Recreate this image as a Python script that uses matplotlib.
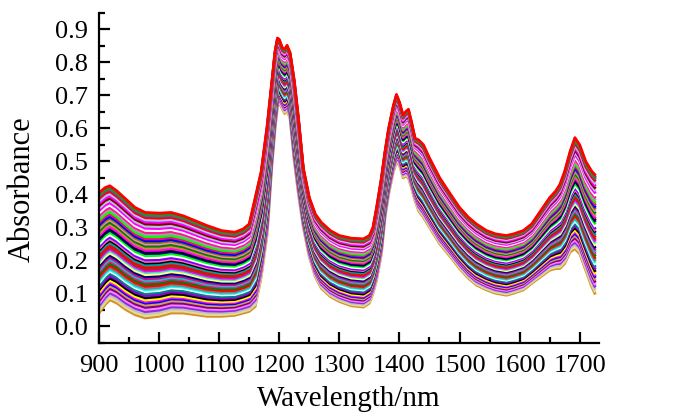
import numpy as np
import matplotlib
matplotlib.use("Agg")
import matplotlib.pyplot as plt
from matplotlib.ticker import MultipleLocator

# Wavelength grid (nm) and the upper / lower envelopes
wavelength = [900, 910, 918, 930, 945, 960, 977, 1000, 1020, 1040, 1060, 1080, 1104,
              1126, 1140, 1150, 1160, 1170, 1180, 1187, 1193, 1197, 1200, 1205, 1209,
              1213, 1218, 1225, 1232, 1240, 1250, 1260, 1270, 1285, 1300, 1320, 1340,
              1350, 1356, 1362, 1370, 1376, 1382, 1390, 1395, 1400, 1406, 1410, 1415,
              1420, 1426, 1432, 1440, 1450, 1467, 1485, 1500, 1515, 1528, 1545, 1560,
              1578, 1590, 1606, 1620, 1635, 1650, 1660, 1667, 1675, 1684, 1692, 1700,
              1710, 1720, 1725]
upper = [0.405, 0.420, 0.426, 0.410, 0.385, 0.360, 0.345, 0.343, 0.345, 0.335, 0.320, 0.305, 0.290,
         0.285, 0.295, 0.310, 0.390, 0.470, 0.610, 0.730, 0.835, 0.874, 0.870, 0.845, 0.840,
         0.852, 0.830, 0.745, 0.630, 0.480, 0.390, 0.340, 0.315, 0.290, 0.275, 0.267, 0.265,
         0.275, 0.300, 0.360, 0.450, 0.530, 0.600, 0.670, 0.703, 0.680, 0.640, 0.650, 0.658,
         0.620, 0.570, 0.565, 0.550, 0.510, 0.450, 0.400, 0.360, 0.330, 0.310, 0.290, 0.280,
         0.275, 0.280, 0.290, 0.310, 0.350, 0.390, 0.410, 0.430, 0.470, 0.530, 0.572, 0.550,
         0.500, 0.470, 0.460]
lower = [0.040, 0.065, 0.080, 0.070, 0.050, 0.035, 0.025, 0.030, 0.040, 0.040, 0.035, 0.030, 0.030,
         0.033, 0.040, 0.045, 0.060, 0.150, 0.280, 0.470, 0.600, 0.665, 0.678, 0.660, 0.645,
         0.655, 0.630, 0.500, 0.400, 0.300, 0.210, 0.150, 0.115, 0.090, 0.075, 0.062, 0.058,
         0.070, 0.100, 0.140, 0.220, 0.330, 0.400, 0.470, 0.496, 0.490, 0.450, 0.455, 0.450,
         0.420, 0.380, 0.350, 0.330, 0.300, 0.250, 0.210, 0.175, 0.145, 0.125, 0.110, 0.100,
         0.094, 0.100, 0.110, 0.130, 0.150, 0.170, 0.175, 0.175, 0.190, 0.225, 0.235, 0.220,
         0.170, 0.120, 0.100]

# Relative position of each spectrum within the envelope (bottom -> top)
level = [0.00, 0.02, 0.04, 0.06, 0.08, 0.10, 0.12, 0.14, 0.155, 0.17, 0.19, 0.21, 0.23,
         0.25, 0.265, 0.28, 0.30, 0.32, 0.34, 0.355, 0.37, 0.39, 0.41, 0.43, 0.445, 0.46,
         0.48, 0.50, 0.52, 0.535, 0.55, 0.57, 0.59, 0.61, 0.625, 0.64, 0.66, 0.68, 0.70,
         0.715, 0.73, 0.75, 0.77, 0.79, 0.81, 0.83, 0.85, 0.87, 0.89, 0.91, 0.93, 0.95,
         0.965, 0.985, 0.975, 1.00]

colors = ["#D4902A", "#E8DC8C", "#C0C0C0", "#8B2BE2", "#FF80FF", "#800080", "#D2A050",
          "#0000FF", "#FF00FF", "#FFFF00", "#000000", "#9400D3", "#008080", "#FFFFFF",
          "#00FFFF", "#808080", "#FF0000", "#008000", "#FF1493", "#00CED1", "#C71585",
          "#000080", "#FFFF80", "#40E0D0", "#FF00FF", "#A52A2A", "#FF0000", "#00A0A0",
          "#000000", "#FF69B4", "#8000FF", "#FFFFFF", "#00FF00", "#0000A0", "#000000",
          "#FF00FF", "#CD853F", "#008000", "#FF80C0", "#808000", "#0000FF", "#FF0080",
          "#00FF00", "#A0A0A0", "#FF1493", "#FFFFFF", "#FF00FF", "#B0C4DE", "#800000",
          "#FF00FF", "#A6CAF0", "#FF0000", "#A020A0", "#8B1A4F", "#2E8B2E", "#FF0000"]

plt.rcParams['font.family'] = ['Liberation Serif', 'DejaVu Serif']

fig = plt.figure(figsize=(6.98, 4.15), dpi=100)
ax = fig.add_axes([0.1418, 0.1742, 0.7163, 0.7945])

wl = np.array(wavelength)
up = np.array(upper)
lo = np.array(lower)
for f, c in zip(level, colors):
    ax.plot(wl, lo + f * (up - lo), color=c, lw=2.0, solid_joinstyle='round')

ax.set_xlim(900, 1732)
ax.set_ylim(-0.05, 0.95)
ax.xaxis.set_major_locator(MultipleLocator(100))
ax.xaxis.set_minor_locator(MultipleLocator(50))
ax.yaxis.set_major_locator(MultipleLocator(0.1))
ax.yaxis.set_minor_locator(MultipleLocator(0.05))
ax.yaxis.set_major_formatter(plt.FuncFormatter(lambda v, p: f"{v:.1f}"))

for s in ['top', 'right']:
    ax.spines[s].set_visible(False)
for s in ['left', 'bottom']:
    ax.spines[s].set_linewidth(1.6)

ax.tick_params(which='major', direction='in', length=8, width=1.6, labelsize=19)
ax.tick_params(which='minor', direction='in', length=4.5, width=1.6)
ax.tick_params(axis='y', which='major', pad=8)
ax.tick_params(axis='x', which='major', pad=9)

ax.set_xlabel("Wavelength/nm", fontsize=21, labelpad=6)
ax.set_ylabel("Absorbance", fontsize=22)
ax.yaxis.set_label_coords(-0.125, 0.465)

fig.savefig("out.png", dpi=100)
